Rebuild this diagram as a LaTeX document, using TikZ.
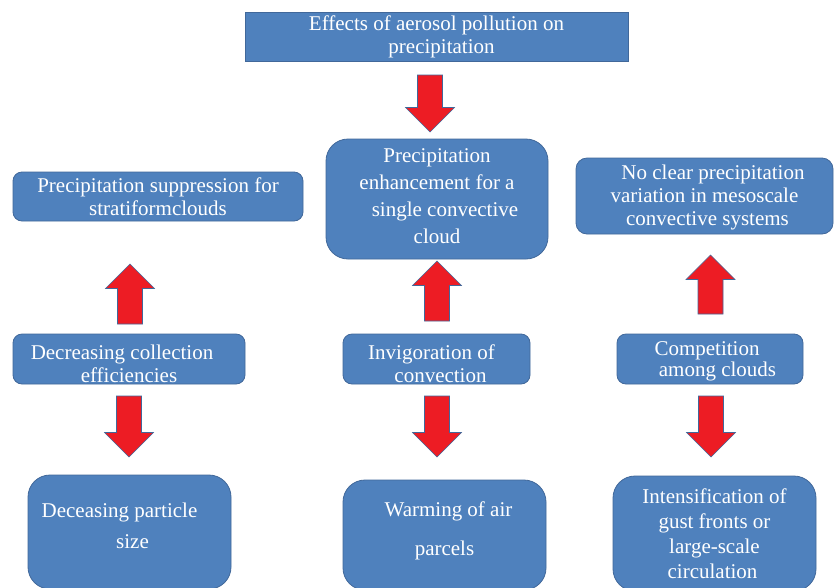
\documentclass[tikz,border=0pt]{standalone}
\usepackage{fontspec}
\setmainfont{Liberation Serif}
\usepackage{tikz}
\usetikzlibrary{calc}
\definecolor{boxfill}{HTML}{4F81BD}
\definecolor{boxline}{HTML}{41689A}
\definecolor{arrowred}{HTML}{ED1C24}
\newcommand{\blockarrow}[2]% tail, tip
{\coordinate (hb) at ($(#2)!24.5pt!(#1)$);
 \draw[redarrow] ($(#1)!12.5pt!90:(#2)$) -- ($(hb)!12.5pt!90:(#2)$) -- ($(hb)!24.5pt!90:(#2)$)
   -- (#2) -- ($(hb)!24.5pt!-90:(#2)$) -- ($(hb)!12.5pt!-90:(#2)$) -- ($(#1)!12.5pt!-90:(#2)$) -- cycle;
}
\tikzset{
  every box/.style = {draw=boxline, line width=0.8pt, fill=boxfill, text=white, align=center, inner sep=0pt,
    font=\fontsize{21}{23}\selectfont},
  titlebox/.style = {every box},
  flowbox/.style = {every box, rounded corners=9pt},
  bigbox/.style = {every box, rounded corners=22pt},
  redarrow/.style = {fill=arrowred, draw=boxline, line width=0.6pt, line join=miter}
}

\begin{document}
\begin{tikzpicture}[x=1pt,y=-1pt]
\useasboundingbox (0,0) rectangle (835,587);
\fill[white] (0,0) rectangle (835,587);
\clip (0,0) rectangle (835,587);

% -- title
\node[titlebox, minimum width=383pt, minimum height=49pt] (effects) at (436.5,36.5)
  {Effects of aerosol pollution on\\ \hspace*{10pt}precipitation};

% -- outcomes
\node[flowbox, minimum width=290pt, minimum height=49pt] (suppress) at (158,196.5)
  {Precipitation suppression for\\ stratiformclouds};
\node[bigbox, minimum width=222pt, minimum height=120pt] (enhance) at (437,199)
  {Precipitation\\[4pt] enhancement for a\\[4pt] \hspace*{16pt}single convective\\[4pt] cloud\\[-17pt]};
\node[flowbox, rounded corners=11pt, minimum width=257pt, minimum height=76pt] (noclear) at (704.5,196)
  {\rule{0pt}{18.5pt}\hspace*{17pt}No clear precipitation\\ variation in mesoscale\\ \hspace*{6pt}convective systems};

% -- mechanisms
\node[flowbox, minimum width=232pt, minimum height=50pt] (collect) at (129,359)
  {\rule{0pt}{24.5pt}Decreasing collection\hspace*{14pt}\\ efficiencies};
\node[flowbox, minimum width=187pt, minimum height=50pt] (invig) at (436.5,359)
  {\rule{0pt}{24.5pt}Invigoration of\hspace*{10pt}\\ \hspace*{8pt}convection};
\node[flowbox, minimum width=186pt, minimum height=50pt] (compete) at (710,359)
  {\rule{0pt}{19.5pt}Competition\hspace*{6pt}\\[-2pt] \hspace*{15pt}among clouds};

% -- causes
\node[bigbox, minimum width=203pt, minimum height=114pt] (particle) at (129.5,532)
  {Deceasing particle\hspace*{20pt}\\[8pt] \hspace*{6pt}size\\[-10pt]};
\node[bigbox, minimum width=203pt, minimum height=110pt] (warming) at (444.5,535)
  {\hspace*{8pt}Warming of air\\[16pt] parcels\\[-10pt]};
\node[bigbox, minimum width=203pt, minimum height=115pt] (gust) at (714.5,533.5)
  {Intensification of\\[2pt] gust fronts or\\[2pt] large-scale\hspace*{23pt}\\[2pt] circulation\hspace*{4pt}};

% -- arrow ends
\coordinate (effTail) at (430,75);    \coordinate (effTip) at (430,132);
\coordinate (collTail) at (130,324);  \coordinate (collTip) at (130,264);
\coordinate (invTail) at (437,321);   \coordinate (invTip) at (437,261);
\coordinate (compTail) at (710.5,314); \coordinate (compTip) at (710.5,255);
\coordinate (partTail) at (129,396);  \coordinate (partTip) at (129,457);
\coordinate (warmTail) at (437,396);  \coordinate (warmTip) at (437,457);
\coordinate (gustTail) at (711,396);  \coordinate (gustTip) at (711,457);

\blockarrow{effTail}{effTip}
\blockarrow{collTail}{collTip}
\blockarrow{invTail}{invTip}
\blockarrow{compTail}{compTip}
\blockarrow{partTail}{partTip}
\blockarrow{warmTail}{warmTip}
\blockarrow{gustTail}{gustTip}

\end{tikzpicture}
\end{document}
